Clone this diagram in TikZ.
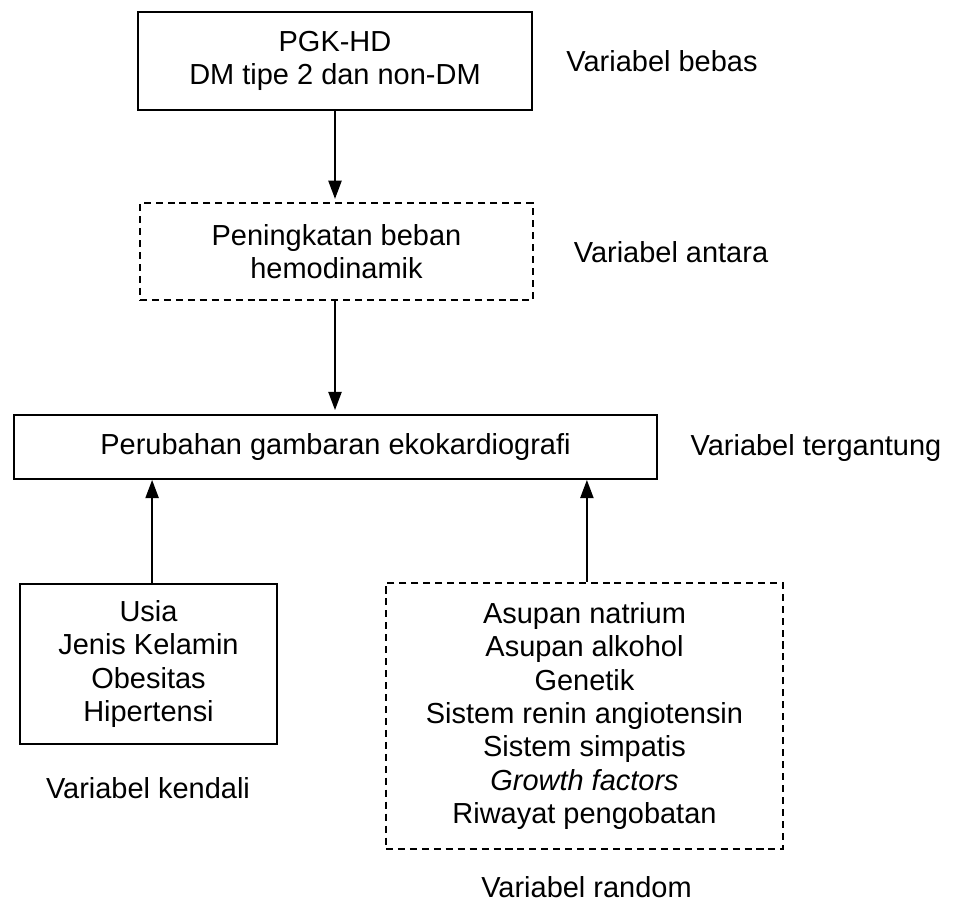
\documentclass[tikz,border=0pt]{standalone}
\usepackage{fontspec}
\setmainfont{Liberation Sans}
\usetikzlibrary{arrows.meta}

\begin{document}
\begin{tikzpicture}[x=0.025cm, y=-0.025cm,
	every node/.style={font=\fontsize{20.6}{23.8}\selectfont},
	box/.style={draw, line width=1.3pt, align=center, inner sep=0pt},
	dbox/.style={box, dash pattern=on 5pt off 3.5pt},
	lbl/.style={anchor=base},
	>={Triangle[width=9.4pt, length=13pt]}]
	\useasboundingbox (0,0) rectangle (960,904);
	% boxes
	\node[box, minimum width=9.85cm, minimum height=2.45cm] (pgk) at (335,61) {PGK-HD\\DM tipe 2 dan non-DM};
	\node[dbox, minimum width=9.825cm, minimum height=2.425cm] (beban) at (336.5,251.5) {Peningkatan beban\\hemodinamik};
	\node[box, minimum width=16.075cm, minimum height=1.6cm] (eko) at (335.5,447) {Perubahan gambaran ekokardiografi};
	\node[box, minimum width=6.425cm, minimum height=4cm] (kendali) at (148.5,664) {Usia\\Jenis Kelamin\\Obesitas\\Hipertensi};
	\node[dbox, minimum width=9.925cm, minimum height=6.65cm] (random) at (584.5,716) {Asupan natrium\\Asupan alkohol\\Genetik\\Sistem renin angiotensin\\Sistem simpatis\\\textit{Growth factors}\\Riwayat pengobatan};
	% labels
	\node[lbl] (lbebas) at (662,71) {Variabel bebas};
	\node[lbl] (lantara) at (671,262) {Variabel antara};
	\node[lbl] (ltergantung) at (816,455) {Variabel tergantung};
	\node[lbl] (lkendali) at (148,798) {Variabel kendali};
	\node[lbl] (lrandom) at (586.5,897) {Variabel random};
	% arrows
	\draw[->, line width=1.3pt, shorten >=0.08cm] (pgk.south) -- (pgk.south |- beban.north);
	\draw[->, line width=1.3pt, shorten >=0.1cm] (beban.south -| pgk.south) -- (pgk.south |- eko.north);
	\draw[->, line width=1.3pt] ([xshift=0.09cm]kendali.north) -- ([xshift=0.09cm]kendali.north |- eko.south);
	\draw[->, line width=1.3pt] ([xshift=0.06cm]random.north) -- ([xshift=0.06cm]random.north |- eko.south);
\end{tikzpicture}
\end{document}
